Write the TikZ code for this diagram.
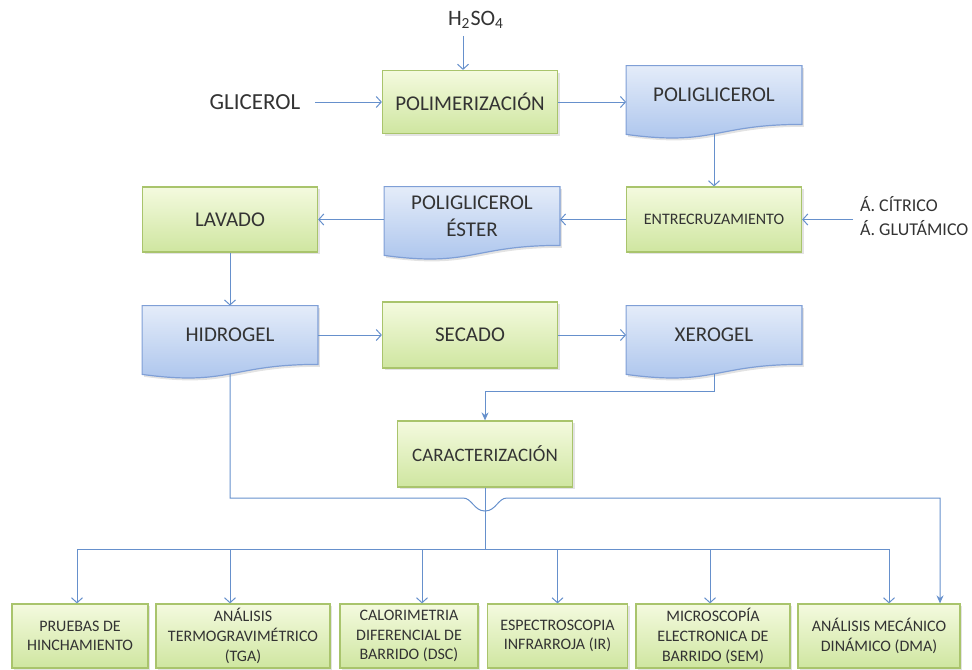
\documentclass[tikz,border=0pt]{standalone}
\usepackage{fontspec}
\setmainfont{Carlito}
\usetikzlibrary{positioning,arrows.meta,calc,shadows}
\pgfdeclarelayer{background}
\pgfsetlayers{background,main}
\definecolor{grntop}{HTML}{F4FADF}
\definecolor{grnbot}{HTML}{CFE6A0}
\definecolor{grnline}{HTML}{A9C46C}
\definecolor{bluetop}{HTML}{E4ECF9}
\definecolor{bluebot}{HTML}{A8C2EC}
\definecolor{blueline}{HTML}{7F9FD6}
\definecolor{arrcol}{HTML}{6690CC}
\definecolor{txt}{HTML}{333333}

% document shape with wavy bottom, drawn behind the text node
\newcommand{\docshape}[1]{%
  \begin{pgfonlayer}{background}
    \draw[docline] (#1.north west) -- (#1.north east) -- (#1.south east)
      .. controls (#1.south) and ($(#1.south)+(0,22)$) .. ($(#1.south west)+(0,10)$) -- cycle;
  \end{pgfonlayer}
  \coordinate (#1-b) at ($(#1.south)+(0,9.5)$);}

\begin{document}
\begin{tikzpicture}[x=0.5pt, y=-0.5pt,
    every node/.style={font=\fontsize{10.5}{13.5}\selectfont, text=txt},
    shade/.style={drop shadow={opacity=0.22, shadow xshift=1pt, shadow yshift=-1.2pt}},
    grnbox/.style={draw=grnline, line width=0.6pt, top color=grntop, bottom color=grnbot,
      shade, minimum width=87.5pt, minimum height=32.5pt, inner sep=2pt, align=center},
    smallbox/.style={grnbox, minimum height=32pt, font=\fontsize{8}{9.8}\selectfont},
    docbox/.style={minimum width=87.5pt, minimum height=29pt, inner sep=2pt, align=center},
    docline/.style={draw=blueline, line width=0.6pt, top color=bluetop, bottom color=bluebot, shade},
    conn/.style={draw=arrcol, line width=0.5pt},
    arr/.style={conn, -{Straight Barb[length=2.5pt,width=5.5pt]}},
    arrf/.style={conn, -{Stealth[length=4pt,width=3.5pt]}}]
  \useasboundingbox (0,0) rectangle (972,669);

  % first row
  \node[font=\fontsize{11}{13}\selectfont] (acido) at (476,20) {H\textsubscript{2}SO\textsubscript{4}};
  \node[font=\fontsize{11.5}{14}\selectfont] (glicerol) at (255,102) {GLICEROL};
  \node[grnbox, minimum height=31.5pt] (polim) at (470,102) {POLIMERIZACIÓN};
  \node[docbox] (poligl) at (714,95) {POLIGLICEROL};
  \docshape{poligl}

  % second row
  \node[grnbox, font=\fontsize{8}{10}\selectfont] (entre) at (714,219.5) {ENTRECRUZAMIENTO};
  \node[anchor=west, align=left, font=\fontsize{9}{12}\selectfont] (acidos) at (853,216)
    {Á. CÍTRICO\\Á. GLUTÁMICO};
  \node[docbox] (ester) at (472,216) {POLIGLICEROL\\ÉSTER};
  \docshape{ester}
  \node[grnbox] (lavado) at (230,219.5) {LAVADO};

  % third row
  \node[docbox] (hidro) at (230,335) {HIDROGEL};
  \docshape{hidro}
  \node[grnbox, minimum height=33pt] (secado) at (470,335) {SECADO};
  \node[docbox] (xero) at (714,335) {XEROGEL};
  \docshape{xero}
  \node[grnbox, minimum height=33pt, font=\fontsize{9.5}{12}\selectfont] (caract) at (485,454) {CARACTERIZACIÓN};

  % characterization techniques
  \node[smallbox, minimum width=68pt] (b1) at (80,636) {PRUEBAS DE\\HINCHAMIENTO};
  \node[smallbox, minimum width=87pt] (b2) at (243,636) {ANÁLISIS\\TERMOGRAVIMÉTRICO\\(TGA)};
  \node[smallbox, minimum width=69pt] (b3) at (409,636) {CALORIMETRIA\\DIFERENCIAL DE\\BARRIDO (DSC)};
  \node[smallbox, minimum width=70pt] (b4) at (557.5,636) {ESPECTROSCOPIA\\INFRARROJA (IR)};
  \node[smallbox, minimum width=77pt] (b5) at (713,636) {MICROSCOPÍA\\ELECTRONICA DE\\BARRIDO (SEM)};
  \node[smallbox, minimum width=81pt] (b6) at (879,636) {ANÁLISIS MECÁNICO\\DINÁMICO (DMA)};

  % process arrows
  \draw[arr] ($(acido.south)+(-13,0)$) -- ($(polim.north)+(-7,0)$);
  \draw[arr] ($(glicerol.east)+(8,0)$) -- (polim.west);
  \draw[arr] (polim.east) -- (polim.east -| poligl.west);
  \draw[arr] (poligl-b) -- (entre.north);
  \draw[arr] (acidos.west |- entre.east) -- (entre.east);
  \draw[arr] (entre.west) -- (entre.west -| ester.east);
  \draw[arr] (lavado.east -| ester.west) -- (lavado.east);
  \draw[arr] (lavado.south) -- (hidro.north);
  \draw[arr] (hidro.east) -- (secado.west);
  \draw[arr] (secado.east) -- (xero.west);
  \draw[arrf] (xero-b) |- ($(caract.north)+(0,-29)$) -- (caract.north);

  % hidrogel line jumping over the characterization line
  \draw[arrf] (hidro-b) |- (463,498)
    .. controls (472,498) and (474,511) .. (485,511)
    .. controls (496,511) and (498,498) .. (507,498) -| ($(b6.north)+(61,0)$);

  % distribution bus
  \coordinate (bus) at (485,549);
  \draw[conn] (caract.south) -- (bus);
  \foreach \b/\dx in {b1/-3, b2/-13, b3/13, b4/0, b5/-3, b6/10} {
    \coordinate (drop-\b) at ($(\b.north)+(\dx,0)$);
    \draw[arr] (drop-\b |- bus) -- (drop-\b);
  }
  \draw[conn] (drop-b1 |- bus) -- (drop-b6 |- bus);
\end{tikzpicture}
\end{document}
